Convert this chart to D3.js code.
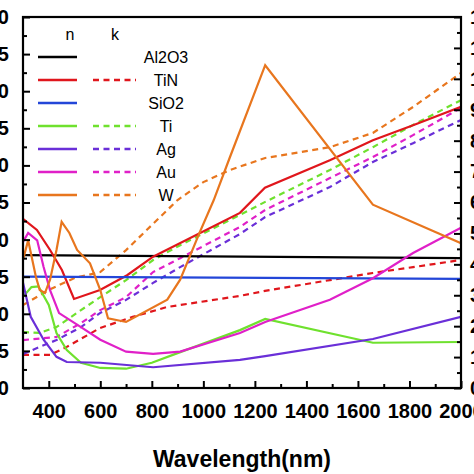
<!DOCTYPE html>
<html><head><meta charset="utf-8">
<script src="https://cdn.jsdelivr.net/npm/d3@7"></script>
<style>html,body{margin:0;padding:0;background:#fff;overflow:hidden}</style>
</head><body>
<svg id="c" width="474" height="474"></svg>
<script>
// ---- data (n on left axis, k on right axis) ----
const xTicks = [400, 600, 800, 1000, 1200, 1400, 1600, 1800, 2000];
const leftTicks = [0, 0.5, 1, 1.5, 2, 2.5, 3, 3.5, 4, 4.5, 5];
const rightTicks = [0,1,2,3,4,5,6,7,8,9,10,11,12];
const materials = ["Al2O3", "TiN", "SiO2", "Ti", "Ag", "Au", "W"];
const colors = ["#000000", "#e0161c", "#2346d8", "#6fe12e", "#6a2fd8", "#e020c8", "#e8761e"];
const hasK = [false, true, false, true, true, true, true];

const al2o3_wl = [300, 2000];
const al2o3_n  = [1.79, 1.75];
const sio2_wl  = [300, 2000];
const sio2_n   = [1.50, 1.47];

const tin_wl = [300, 354, 405, 451, 498, 599, 704, 805, 1142, 1239, 1491, 1658, 1814, 2000];
const tin_n  = [2.28, 2.13, 1.86, 1.59, 1.20, 1.32, 1.52, 1.77, 2.36, 2.70, 3.07, 3.34, 3.54, 3.79];
const tin_kwl = [300, 405, 470, 599, 726, 859, 1142, 1239, 1491, 1658, 1814, 2000];
const tin_k  = [1.07, 1.07, 1.33, 1.94, 2.30, 2.62, 2.98, 3.14, 3.49, 3.72, 3.91, 4.14];

const ti_wl = [300, 333, 360, 400, 430, 470, 525, 600, 700, 800, 900, 1142, 1240, 1658, 2000];
const ti_n  = [1.23, 1.36, 1.37, 1.12, 0.74, 0.51, 0.34, 0.27, 0.26, 0.34, 0.47, 0.78, 0.93, 0.61, 0.62];
const ti_kwl = [300, 365, 430, 525, 600, 700, 805, 910, 1142, 1240, 1491, 1658, 1814, 2000];
const ti_k  = [1.81, 1.78, 1.97, 2.52, 2.94, 3.49, 4.14, 4.62, 5.60, 6.02, 7.05, 7.79, 8.51, 9.31];

const ag_wl = [300, 330, 380, 430, 470, 600, 805, 1142, 1240, 1658, 2000];
const ag_n  = [1.42, 0.96, 0.65, 0.42, 0.35, 0.34, 0.28, 0.38, 0.43, 0.66, 0.96];
const ag_kwl = [300, 365, 430, 525, 600, 700, 805, 910, 1142, 1240, 1491, 1658, 1814, 2000];
const ag_k  = [1.10, 1.33, 1.55, 1.97, 2.43, 2.85, 3.40, 3.91, 4.98, 5.53, 6.50, 7.31, 7.92, 8.67];

const au_wl = [300, 320, 355, 380, 405, 440, 525, 600, 700, 805, 910, 1142, 1240, 1491, 1658, 1814, 2000];
const au_n  = [1.97, 2.09, 1.99, 1.63, 1.32, 1.01, 0.82, 0.65, 0.49, 0.46, 0.49, 0.74, 0.89, 1.19, 1.48, 1.82, 2.16];
const au_kwl = [300, 430, 525, 600, 700, 805, 910, 1142, 1240, 1491, 1658, 1814, 2000];
const au_k  = [1.55, 1.65, 2.10, 2.52, 2.94, 3.75, 4.20, 5.21, 5.76, 6.79, 7.47, 8.18, 9.06];

const w_wl = [300, 320, 350, 365, 385, 405, 430, 450, 480, 510, 560, 600, 630, 700, 860, 910, 985, 1040, 1103, 1240, 1658, 2000];
const w_n  = [1.73, 1.99, 1.50, 1.32, 1.28, 1.46, 1.86, 2.24, 2.09, 1.86, 1.68, 1.32, 0.94, 0.89, 1.19, 1.46, 2.09, 2.53, 3.11, 4.35, 2.47, 1.95];
const w_kwl = [300, 400, 500, 600, 700, 800, 900, 1000, 1103, 1240, 1491, 1658, 1814, 2000];
const w_k  = [2.68, 3.17, 3.56, 3.75, 4.46, 5.27, 6.08, 6.66, 7.05, 7.44, 7.79, 8.25, 9.09, 10.19];

// ---- layout ----
const L = 23, R = 461, T = 17, B = 388;
const svg = d3.select("#c");
const x = d3.scaleLinear().domain([300, 2000]).range([L, R]);
const yN = d3.scaleLinear().domain([0, 5]).range([B, T]);
const yK = d3.scaleLinear().domain([0, 12]).range([B, T]);
const font = "'Liberation Sans', Arial, sans-serif";

const plot = svg.append("g");
svg.append("clipPath").attr("id","pc").append("rect")
  .attr("x", L).attr("y", T).attr("width", R-L).attr("height", B-T);

const nSeries = [
  [al2o3_wl, al2o3_n, 0], [tin_wl, tin_n, 1], [sio2_wl, sio2_n, 2], [ti_wl, ti_n, 3],
  [ag_wl, ag_n, 4], [au_wl, au_n, 5], [w_wl, w_n, 6]
];
const kSeries = [
  [tin_kwl, tin_k, 1], [ti_kwl, ti_k, 3], [ag_kwl, ag_k, 4], [au_kwl, au_k, 5], [w_kwl, w_k, 6]
];
const gLines = plot.append("g").attr("clip-path", "url(#pc)");
kSeries.forEach(([wl, v, ci]) => {
  const line = d3.line().x(d => x(d[0])).y(d => yK(d[1]));
  gLines.append("path").attr("d", line(wl.map((w,i)=>[w, v[i]])))
    .attr("fill","none").attr("stroke", colors[ci]).attr("stroke-width", 2.2)
    .attr("stroke-dasharray", "6,4.5");
});
nSeries.forEach(([wl, v, ci]) => {
  const line = d3.line().x(d => x(d[0])).y(d => yN(d[1]));
  gLines.append("path").attr("d", line(wl.map((w,i)=>[w, v[i]])))
    .attr("fill","none").attr("stroke", colors[ci]).attr("stroke-width", 2.2);
});

// ---- axes ----
const ax = svg.append("g");
ax.append("g").attr("transform", `translate(0,${B})`)
  .call(d3.axisBottom(x).tickValues(xTicks).tickSize(-7).tickPadding(16).tickFormat(d3.format("d")));
ax.append("g").attr("transform", `translate(0,${B})`)
  .call(d3.axisBottom(x).tickValues(d3.range(500, 2000, 200)).tickSize(-4).tickFormat(""));
ax.append("g").attr("transform", `translate(${L},0)`)
  .call(d3.axisLeft(yN).tickValues(leftTicks).tickSize(-7).tickPadding(14).tickFormat(d3.format(".1f")));
ax.append("g").attr("transform", `translate(${L},0)`)
  .call(d3.axisLeft(yN).tickValues(d3.range(0.25, 5, 0.5)).tickSize(-4).tickFormat(""));
ax.append("g").attr("transform", `translate(${R},0)`)
  .call(d3.axisRight(yK).tickValues(rightTicks).tickSize(-7).tickPadding(9).tickFormat(d3.format("d")));
ax.append("g").attr("transform", `translate(${R},0)`)
  .call(d3.axisRight(yK).tickValues(d3.range(0.5, 12, 1)).tickSize(-4).tickFormat(""));

ax.selectAll(".domain").remove();
ax.selectAll(".tick line").attr("stroke", "#000").attr("stroke-width", 2);
ax.selectAll(".tick text").attr("fill", "#000").style("font-family", font)
  .style("font-size", "20px").style("font-weight", "bold");
svg.append("rect").attr("x", L).attr("y", T).attr("width", R-L).attr("height", B-T)
  .attr("fill", "none").attr("stroke", "#000").attr("stroke-width", 2.2);

svg.append("text").attr("x", 242).attr("y", 467).attr("text-anchor", "middle")
  .style("font-family", font).style("font-size", "23px").style("font-weight", "bold")
  .text("Wavelength(nm)");

// ---- legend ----
const lg = svg.append("g");
lg.append("text").attr("x", 70).attr("y", 40).attr("text-anchor","middle")
  .style("font-family", font).style("font-size","16px").text("n");
lg.append("text").attr("x", 115).attr("y", 40).attr("text-anchor","middle")
  .style("font-family", font).style("font-size","16px").text("k");
const rowY = d3.scaleLinear().domain([0, 6]).range([57, 195]);
materials.forEach((m, i) => {
  const yy = rowY(i);
  lg.append("line").attr("x1", 38).attr("x2", 77).attr("y1", yy).attr("y2", yy)
    .attr("stroke", colors[i]).attr("stroke-width", 2.5);
  if (hasK[i]) lg.append("line").attr("x1", 93).attr("x2", 136).attr("y1", yy).attr("y2", yy)
    .attr("stroke", colors[i]).attr("stroke-width", 2.5).attr("stroke-dasharray", "6,4.5");
  lg.append("text").attr("x", 166).attr("y", yy + 6).attr("text-anchor","middle")
    .style("font-family", font).style("font-size","16px").text(m);
});
</script>
</body></html>
